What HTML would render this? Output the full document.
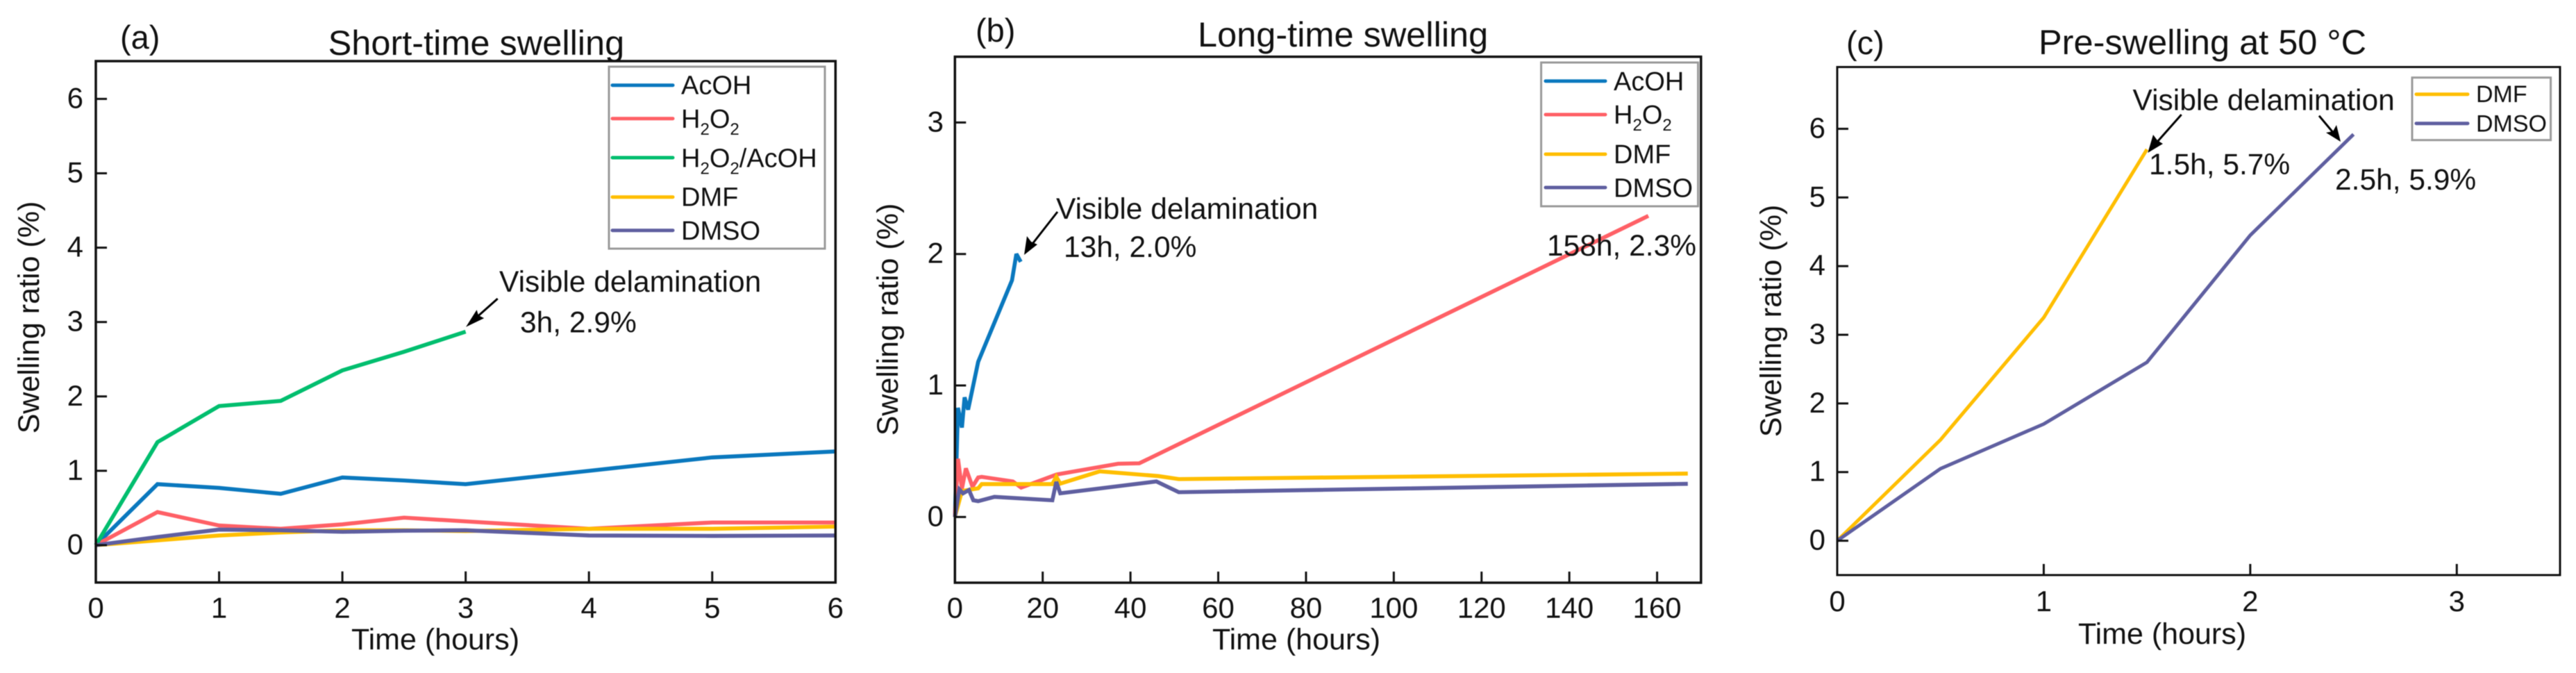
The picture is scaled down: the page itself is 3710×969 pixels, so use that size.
<!DOCTYPE html>
<html lang="en">
<head>
<meta charset="utf-8">
<title>Swelling ratio charts</title>
<style>
html,body{margin:0;padding:0;background:#fff;width:3710px;height:969px;overflow:hidden}
svg{display:block;filter:blur(0.6px)}
text{font-family:"Liberation Sans",Arial,sans-serif;fill:#111}
.title{font-size:50.5px}
.panel{font-size:47px}
.axt{font-size:43px}
.leg{font-size:38px}
.legc{font-size:34px}
.ann{font-size:42.5px}
.sub{font-size:24px}
.box{fill:#fff;stroke:#9a9a9a;stroke-width:3}
.ln{fill:none;stroke-width:5;stroke-linecap:round}
</style>
</head>
<body>
<svg id="chart" xmlns="http://www.w3.org/2000/svg" width="3710" height="969" viewBox="0 0 3710 969">
<rect width="3710" height="969" fill="#fff"/>

<g id="panel-a">
<text class="panel" x="173" y="70">(a)</text>
<text class="title" x="472.6" y="79">Short-time swelling</text>
<text class="axt" x="627" y="935" text-anchor="middle">Time (hours)</text>
<text class="axt" transform="translate(56 457) rotate(-90)" text-anchor="middle">Swelling ratio (%)</text>
</g>

<g id="panel-b">
<text class="panel" x="1405" y="60">(b)</text>
<text class="title" x="1725" y="67">Long-time swelling</text>
<text class="axt" x="1867" y="935" text-anchor="middle">Time (hours)</text>
<text class="axt" transform="translate(1293 460) rotate(-90)" text-anchor="middle">Swelling ratio (%)</text>
</g>

<g id="panel-c">
<text class="panel" x="2659" y="78">(c)</text>
<text class="title" x="2936" y="78">Pre-swelling at 50 °C</text>
<text class="axt" x="3114" y="927" text-anchor="middle">Time (hours)</text>
<text class="axt" transform="translate(2565 462) rotate(-90)" text-anchor="middle">Swelling ratio (%)</text>
</g>

<g id="overlay">
<g>
<rect class="box" x="877" y="96" width="311" height="262"/>
<line class="ln" x1="882" x2="969" y1="122.7" y2="122.7" stroke="#0A78BE"/>
<text class="leg" x="981" y="135.7">AcOH</text>
<line class="ln" x1="882" x2="969" y1="170.7" y2="170.7" stroke="#FF6066"/>
<text class="leg" x="981" y="184">H<tspan class="sub" dy="10">2</tspan><tspan dy="-10">O</tspan><tspan class="sub" dy="10">2</tspan></text>
<line class="ln" x1="882" x2="969" y1="227" y2="227" stroke="#00BE6E"/>
<text class="leg" x="981" y="240.7">H<tspan class="sub" dy="10">2</tspan><tspan dy="-10">O</tspan><tspan class="sub" dy="10">2</tspan><tspan dy="-10">/AcOH</tspan></text>
<line class="ln" x1="882" x2="969" y1="283.7" y2="283.7" stroke="#FFBE00"/>
<text class="leg" x="981" y="296.7">DMF</text>
<line class="ln" x1="882" x2="969" y1="331.7" y2="331.7" stroke="#5F5FA0"/>
<text class="leg" x="981" y="345">DMSO</text>
</g>
<g>
<rect class="box" x="2219.6" y="90" width="226" height="207"/>
<line class="ln" x1="2226" x2="2312" y1="116.7" y2="116.7" stroke="#0A78BE"/>
<text class="leg" x="2324" y="130">AcOH</text>
<line class="ln" x1="2226" x2="2312" y1="165" y2="165" stroke="#FF6066"/>
<text class="leg" x="2324" y="178">H<tspan class="sub" dy="10">2</tspan><tspan dy="-10">O</tspan><tspan class="sub" dy="10">2</tspan></text>
<line class="ln" x1="2226" x2="2312" y1="222" y2="222" stroke="#FFBE00"/>
<text class="leg" x="2324" y="235">DMF</text>
<line class="ln" x1="2226" x2="2312" y1="270" y2="270" stroke="#5F5FA0"/>
<text class="leg" x="2324" y="283.7">DMSO</text>
</g>
<g>
<rect class="box" x="3474" y="111.7" width="199.6" height="90"/>
<line class="ln" x1="3480" x2="3554" y1="135.7" y2="135.7" stroke="#FFBE00"/>
<text class="legc" x="3566" y="147">DMF</text>
<line class="ln" x1="3480" x2="3554" y1="177.7" y2="177.7" stroke="#5F5FA0"/>
<text class="legc" x="3566" y="189.7">DMSO</text>
</g>

<g>
<text class="ann" x="719" y="420">Visible delamination</text>
<text class="ann" x="749" y="478.3">3h, 2.9%</text>
<line x1="716.7" y1="430" x2="688" y2="455.5" stroke="#000" stroke-width="3"/>
<polygon points="671,470.7 686.6,446.1 689,454 697.2,458.1" fill="#000"/>
</g>
<g>
<text class="ann" x="1521" y="315">Visible delamination</text>
<text class="ann" x="1532" y="370">13h, 2.0%</text>
<text class="ann" x="2228" y="368">158h, 2.3%</text>
<line x1="1523" y1="305" x2="1487" y2="351" stroke="#000" stroke-width="3"/>
<polygon points="1475,367 1479,340 1485,348 1494,352" fill="#000"/>
</g>
<g>
<text class="ann" x="3071.5" y="158.3">Visible delamination</text>
<text class="ann" x="3095" y="251">1.5h, 5.7%</text>
<text class="ann" x="3363" y="273">2.5h, 5.9%</text>
<line x1="3141.7" y1="165" x2="3108" y2="203" stroke="#000" stroke-width="3"/>
<polygon points="3093.3,220 3101,194 3107,202 3115,207" fill="#000"/>
<line x1="3340" y1="166.7" x2="3362" y2="193" stroke="#000" stroke-width="3"/>
<polygon points="3371,204 3350,191 3360,189 3365,180" fill="#000"/>
</g>
</g>
</svg>

<script>
// Panel (a): short-time swelling
var aHours = [0, 0.5, 1, 1.5, 2, 2.5, 3, 4, 5, 6];
var aGreenHours = [0, 0.5, 1, 1.5, 2, 2.5, 3];
var aAcOH = [0, 0.82, 0.77, 0.69, 0.91, 0.87, 0.82, 1.0, 1.18, 1.26];
var aH2O2 = [0, 0.445, 0.265, 0.22, 0.28, 0.37, 0.32, 0.22, 0.305, 0.305];
var aH2O2AcOH = [0, 1.385, 1.87, 1.94, 2.35, 2.6, 2.87];
var aDMF = [0, 0.065, 0.13, 0.17, 0.2, 0.2, 0.19, 0.22, 0.22, 0.25];
var aDMSO = [0, 0.11, 0.21, 0.2, 0.18, 0.195, 0.2, 0.13, 0.125, 0.13];
var aXTicks = [1, 2, 3, 4, 5, 6];
var aXLabels = [0, 1, 2, 3, 4, 5, 6];
var aYTicks = [0, 1, 2, 3, 4, 5, 6];

// Panel (b): long-time swelling
var bAcOHHours = [0, 0.7, 1.6, 2.2, 3, 5.3, 13, 14, 15];
var bAcOH = [0, 0.83, 0.68, 0.91, 0.816, 1.18, 1.8, 2.0, 1.94];
var bH2O2Hours = [0, 0.7, 1.6, 2.5, 4, 5.3, 6.1, 13.2, 15.1, 23.2, 37.2, 42, 158];
var bH2O2 = [0, 0.443, 0.215, 0.37, 0.23, 0.3, 0.305, 0.27, 0.223, 0.323, 0.405, 0.408, 2.29];
var bDMFHours = [0, 1.6, 5.3, 6.1, 22.2, 23.1, 24, 33, 46.4, 51, 167];
var bDMF = [0, 0.197, 0.218, 0.25, 0.25, 0.306, 0.253, 0.347, 0.311, 0.288, 0.33];
var bDMSOHours = [0, 1, 1.85, 3.2, 4.2, 5.3, 9, 22.2, 23.1, 24, 45.9, 51, 167];
var bDMSO = [0, 0.21, 0.18, 0.205, 0.127, 0.12, 0.153, 0.127, 0.267, 0.18, 0.27, 0.188, 0.252];
var bXTicks = [20, 40, 60, 80, 100, 120, 140, 160];
var bXLabels = [0, 20, 40, 60, 80, 100, 120, 140, 160];
var bYTicks = [0, 1, 2, 3];

// Panel (c): pre-swelling at 50 C
var cDMFHours = [0, 0.5, 1, 1.5];
var cDMF = [0, 1.47, 3.25, 5.7];
var cDMSOHours = [0, 0.5, 1, 1.5, 2, 2.5];
var cDMSO = [0, 1.05, 1.7, 2.6, 4.45, 5.92];
var cXTicks = [1, 2, 3];
var cXLabels = [0, 1, 2, 3];
var cYTicks = [0, 1, 2, 3, 4, 5, 6];

var BLUE = '#0A78BE', RED = '#FF6066', GREEN = '#00BE6E', YELLOW = '#FFBE00', PURPLE = '#5F5FA0';
var NS = 'http://www.w3.org/2000/svg';

function make(tag, attrs, parent) {
  var el = document.createElementNS(NS, tag);
  for (var k in attrs) { el.setAttribute(k, attrs[k]); }
  parent.appendChild(el);
  return el;
}

function drawPanel(cfg) {
  var g = document.getElementById(cfg.id);
  function xPos(v) { return cfg.left + (v - cfg.xMin) * (cfg.right - cfg.left) / (cfg.xMax - cfg.xMin); }
  function yPos(v) { return cfg.bottom - (v - cfg.yMin) * (cfg.bottom - cfg.top) / (cfg.yMax - cfg.yMin); }

  cfg.series.forEach(function (s) {
    var pts = s.x.map(function (h, i) { return xPos(h).toFixed(1) + ',' + yPos(s.y[i]).toFixed(1); }).join(' ');
    var line = make('polyline', { points: pts, fill: 'none', stroke: s.color, 'stroke-width': cfg.lineWidth, 'stroke-linejoin': 'miter', 'stroke-miterlimit': 3 }, g);
    
    
  });

  var frame = make('rect', { x: cfg.left, y: cfg.top, width: cfg.right - cfg.left, height: cfg.bottom - cfg.top, fill: 'none', stroke: '#111', 'stroke-width': cfg.frameWidth }, g);
  
  

  cfg.xTicks.forEach(function (v) {
    var t = make('line', { x1: xPos(v), x2: xPos(v), y1: cfg.bottom, y2: cfg.bottom - 16, stroke: '#111', 'stroke-width': 3 }, g);
    
    
  });
  cfg.xLabels.forEach(function (v) {
    var t = make('text', { x: xPos(v), y: cfg.xLabelY, 'text-anchor': 'middle', 'font-size': 42 }, g);
    t.textContent = String(v);
    
    
  });
  cfg.yTicks.forEach(function (v) {
    var t = make('line', { x1: cfg.left, x2: cfg.left + 16, y1: yPos(v), y2: yPos(v), stroke: '#111', 'stroke-width': 3 }, g);
    
    
    var lab = make('text', { x: cfg.yLabelX, y: yPos(v) + 13, 'text-anchor': 'end', 'font-size': 42 }, g);
    lab.textContent = String(v);
    
    
  });
}

drawPanel({
  id: 'panel-a', left: 138, right: 1203.3, top: 88, bottom: 838.7,
  xMin: 0, xMax: 6, yMin: -0.502, yMax: 6.508,
  lineWidth: 5.7, frameWidth: 3.5, xLabelY: 889.5, yLabelX: 120,
  xTicks: aXTicks, xLabels: aXLabels, yTicks: aYTicks,
  series: [
    { name: 'acoh-line', x: aHours, y: aAcOH, color: BLUE },
    { name: 'h2o2-line', x: aHours, y: aH2O2, color: RED },
    { name: 'h2o2-acoh-line', x: aGreenHours, y: aH2O2AcOH, color: GREEN },
    { name: 'dmf-line', x: aHours, y: aDMF, color: YELLOW },
    { name: 'dmso-line', x: aHours, y: aDMSO, color: PURPLE }
  ]
});

drawPanel({
  id: 'panel-b', left: 1375.3, right: 2449.8, top: 81.7, bottom: 839,
  xMin: 0, xMax: 170, yMin: -0.5, yMax: 3.5,
  lineWidth: 5.7, frameWidth: 3.5, xLabelY: 889.5, yLabelX: 1359,
  xTicks: bXTicks, xLabels: bXLabels, yTicks: bYTicks,
  series: [
    { name: 'acoh-line', x: bAcOHHours, y: bAcOH, color: BLUE },
    { name: 'h2o2-line', x: bH2O2Hours, y: bH2O2, color: RED },
    { name: 'dmf-line', x: bDMFHours, y: bDMF, color: YELLOW },
    { name: 'dmso-line', x: bDMSOHours, y: bDMSO, color: PURPLE }
  ]
});

drawPanel({
  id: 'panel-c', left: 2646, right: 3687, top: 96.5, bottom: 828,
  xMin: 0, xMax: 3.5, yMin: -0.5, yMax: 6.9,
  lineWidth: 5, frameWidth: 3, xLabelY: 880, yLabelX: 2629,
  xTicks: cXTicks, xLabels: cXLabels, yTicks: cYTicks,
  series: [
    { name: 'dmf-line', x: cDMFHours, y: cDMF, color: YELLOW },
    { name: 'dmso-line', x: cDMSOHours, y: cDMSO, color: PURPLE }
  ]
});

// keep legends and annotations above the data marks
document.getElementById('chart').appendChild(document.getElementById('overlay'));
</script>
</body>
</html>
